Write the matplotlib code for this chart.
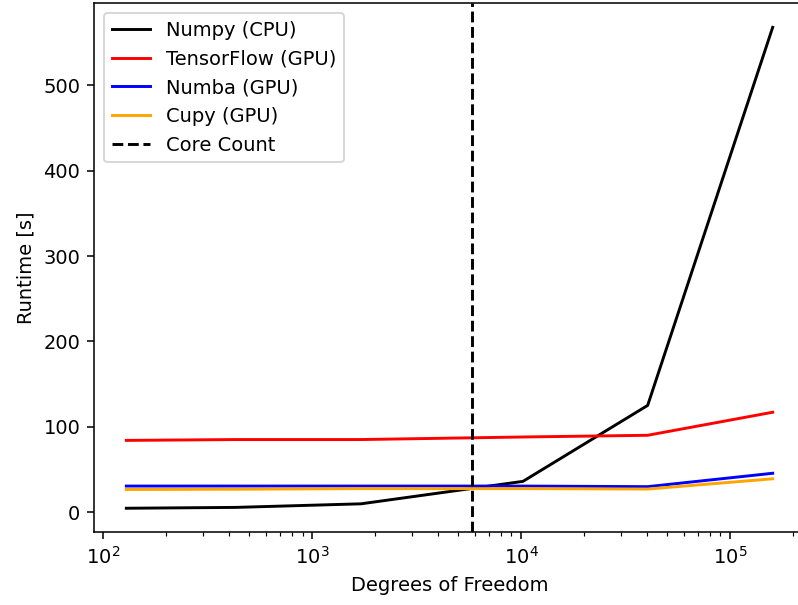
import matplotlib
matplotlib.use("Agg")
import matplotlib.pyplot as plt

dof = [129, 430, 1714, 10220, 40400, 160300]
numpy_cpu = [4.5, 5.5, 9.7, 36, 125, 568]
tensorflow_gpu = [84, 85, 85, 88, 90, 117]
numba_gpu = [30.5, 30.5, 30.5, 30.5, 29.8, 45.5]
cupy_gpu = [26.5, 26.8, 27.5, 27.5, 27, 39]
core_count = 5810

DPI = 140
fig = plt.figure(figsize=(798/DPI, 605/DPI), dpi=DPI)
ax = fig.add_axes([94/798, 72.7/605, (805-94)/798, (532.3-3.3)/605])
ax.plot(dof, numpy_cpu, color="black", label="Numpy (CPU)")
ax.plot(dof, tensorflow_gpu, color="red", label="TensorFlow (GPU)")
ax.plot(dof, numba_gpu, color="blue", label="Numba (GPU)")
ax.plot(dof, cupy_gpu, color="orange", label="Cupy (GPU)")
ax.axvline(core_count, color="black", linestyle="--", label="Core Count")
ax.set_xscale("log")
ax.set_xlabel("Degrees of Freedom")
ax.set_ylabel("Runtime [s]")
ax.legend(loc="upper left")
fig.savefig("out.png", dpi=DPI)
